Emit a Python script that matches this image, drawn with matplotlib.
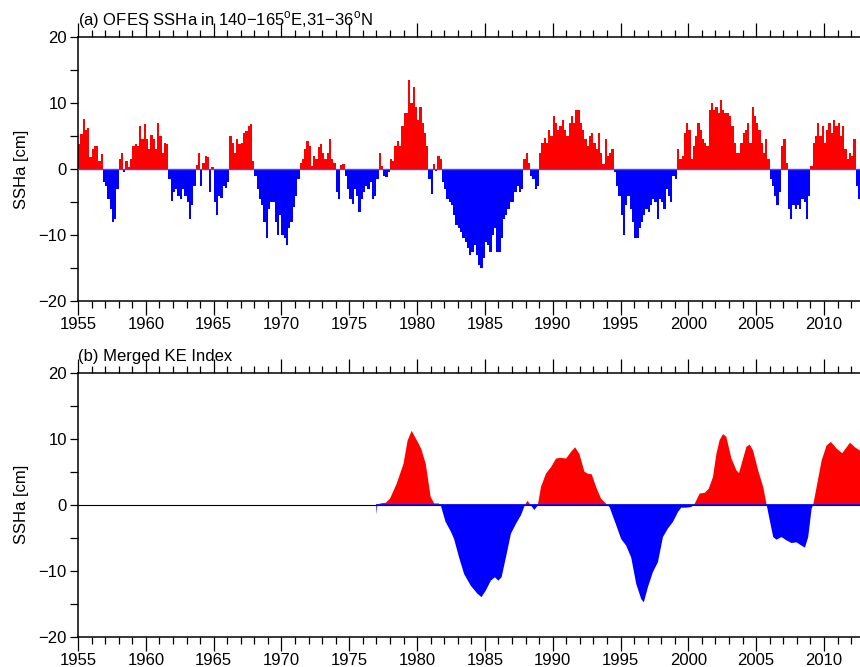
import numpy as np
import matplotlib
matplotlib.use("Agg")
import matplotlib.pyplot as plt
from matplotlib.ticker import MultipleLocator

plt.rcParams["font.family"] = ["Liberation Sans", "DejaVu Sans"]
plt.rcParams["mathtext.fontset"] = "custom"
plt.rcParams["mathtext.rm"] = "Liberation Sans"

# (a) OFES SSHa, bimonthly values from Jan 1955 (6 per year)
ofes_start = 1955.0
ofes_step = 1.0 / 6.0
ofes_ssha = [
    3.8, 5.3, 7.6, 6.0, 6.3, 1.8,        # 1955
    3.0, 3.5, 3.5, 1.3, 2.3, -2.0,       # 1956
    -2.5, -4.5, -6.0, -8.0, -7.5, -3.0,  # 1957
    1.5, 2.5, -0.5, 1.2, 0.3, 1.5,       # 1958
    3.5, 3.8, 3.5, 6.5, 4.5, 6.8,        # 1959
    4.5, 3.0, 5.2, 4.5, 3.0, 7.0,        # 1960
    5.0, 2.5, 4.0, 3.8, -1.5, -4.8,      # 1961
    -3.5, -3.0, -4.0, -4.5, -3.0, -4.0,  # 1962
    -5.0, -7.5, -5.5, -2.5, 0.6, 2.5,    # 1963
    -2.5, 1.0, 2.0, 1.8, -3.5, 0.3,      # 1964
    -5.0, -7.0, -4.0, -4.3, -2.5, -2.8,  # 1965
    -2.0, 5.0, 4.0, 2.5, 4.5, 3.8,       # 1966
    4.0, 5.5, 5.8, 6.5, 6.8, 1.2,        # 1967
    -1.0, -3.0, -4.5, -5.5, -8.0, -10.5, # 1968
    -6.0, -5.0, -5.0, -8.0, -10.0, -7.0, # 1969
    -10.0, -10.5, -11.5, -9.0, -8.0, -5.8,  # 1970
    -4.0, -1.5, 1.0, 1.5, 3.0, 4.2,      # 1971
    3.5, 0.5, 2.0, 1.5, 3.3, 3.8,        # 1972
    2.5, 1.5, 2.5, 4.5, 1.5, 1.0,        # 1973
    -3.5, -4.5, 0.6, 0.8, -1.0, -3.0,    # 1974
    -4.5, -5.3, -3.0, -4.0, -6.5, -4.5,  # 1975
    -3.5, -2.5, -3.0, -2.0, -4.5, -4.0,  # 1976
    -1.5, 2.5, 0.5, -1.0, -1.2, -0.5,    # 1977
    1.5, 1.2, 3.5, 4.2, 3.5, 6.5,        # 1978
    8.5, 8.5, 13.5, 10.0, 12.5, 9.5,     # 1979
    7.5, 9.5, 7.0, 5.5, 3.5, -1.5,       # 1980
    -3.8, 0.8, -0.3, 2.0, 1.5, -2.0,     # 1981
    -3.0, -4.5, -5.0, -5.5, -7.0, -8.5,  # 1982
    -9.0, -9.5, -10.5, -11.0, -12.0, -13.0,   # 1983
    -12.5, -11.5, -13.0, -14.5, -15.0, -13.5, # 1984
    -11.0, -11.5, -12.5, -10.0, -9.0, -12.5,  # 1985
    -12.5, -10.5, -7.5, -7.0, -6.0, -5.0,     # 1986
    -5.0, -3.5, -2.5, -3.5, -3.0, 1.5,   # 1987
    2.5, 1.0, -1.0, -1.5, -3.0, -2.5,    # 1988
    2.5, 4.0, 4.8, 4.0, 6.0, 5.0,        # 1989
    8.0, 7.0, 6.0, 6.5, 7.5, 6.0,        # 1990
    5.0, 7.0, 8.0, 7.0, 9.0, 9.0,        # 1991
    7.0, 6.0, 4.5, 3.5, 5.0, 5.5,        # 1992
    4.0, 3.0, 5.5, 2.5, 0.8, 4.5,        # 1993
    2.0, 2.5, 3.0, -0.5, -2.5, -4.0,     # 1994
    -7.0, -10.0, -5.5, -4.0, -6.0, -8.0, # 1995
    -10.5, -10.5, -9.0, -8.0, -7.0, -6.0,  # 1996
    -6.5, -5.5, -4.5, -5.0, -7.5, -4.5,  # 1997
    -5.0, -6.0, -3.0, -4.0, -5.0, -1.0,  # 1998
    -1.5, 3.0, 1.5, 2.0, 5.5, 7.0,       # 1999
    6.0, 1.5, 3.5, 5.0, 7.0, 6.0,        # 2000
    4.5, 4.0, 3.5, 9.0, 10.0, 9.0,       # 2001
    9.5, 8.5, 10.5, 9.0, 8.5, 8.5,       # 2002
    8.0, 6.5, 4.0, 2.5, 2.5, 4.0,        # 2003
    5.5, 6.0, 7.0, 4.0, 9.5, 8.0,        # 2004
    7.0, 6.0, 4.0, 2.5, 4.5, 1.5,        # 2005
    -1.5, -2.5, -4.0, -5.5, -3.5, 3.5,   # 2006
    4.5, 1.0, -6.0, -7.5, -5.5, -6.0,    # 2007
    -5.5, -6.0, -4.5, -5.0, -7.5, -4.0,  # 2008
    0.5, 4.0, 5.0, 7.0, 5.0, 6.5,        # 2009
    4.0, 6.0, 7.0, 5.5, 7.5, 6.5,        # 2010
    7.0, 5.0, 6.5, 3.0, 1.5, 2.5,        # 2011
    2.0, 4.5, -2.5, -4.5, -5.0,          # 2012
]

# (b) Merged KE index
ke_year = [
    1977.0, 1977.08, 1977.3, 1977.7, 1978.0, 1978.5, 1979.0, 1979.3, 1979.6, 1980.0,
    1980.3, 1980.64, 1981.0, 1981.26, 1981.6, 1981.75, 1982.1, 1982.5, 1982.73, 1983.1,
    1983.47, 1983.97, 1984.46, 1984.75, 1985.07, 1985.44, 1985.74, 1985.99, 1986.23, 1986.55,
    1986.92, 1987.29, 1987.66, 1987.96, 1988.15, 1988.35, 1988.65, 1988.9, 1989.14, 1989.5,
    1989.88, 1990.25, 1990.6, 1990.99, 1991.35, 1991.65, 1991.97, 1992.34, 1992.59, 1992.88,
    1993.2, 1993.57, 1993.94, 1994.19, 1994.56, 1995.05, 1995.42, 1995.79, 1996.16, 1996.53,
    1996.72, 1997.02, 1997.39, 1997.76, 1998.13, 1998.5, 1998.87, 1999.24, 1999.48, 1999.85,
    2000.22, 2000.47, 2000.84, 2001.21, 2001.5, 2001.82, 2002.07, 2002.31, 2002.56, 2002.8,
    2003.18, 2003.55, 2003.74, 2004.04, 2004.29, 2004.53, 2004.78, 2005.15, 2005.52, 2005.76,
    2006.01, 2006.26, 2006.5, 2006.87, 2007.24, 2007.61, 2007.98, 2008.35, 2008.6, 2008.84,
    2009.09, 2009.21, 2009.46, 2009.83, 2010.2, 2010.52, 2010.94, 2011.35, 2011.92, 2012.29,
    2012.8,
]
ke_value = [
    -1.5, 0.0, 0.2, 0.3, 0.9, 3.2, 6.2, 9.7, 11.2, 9.7,
    8.5, 6.2, 1.2, 0.2, 0.2, -0.1, -2.6, -4.1, -5.2, -8.0,
    -10.5, -12.3, -13.5, -14.0, -13.0, -11.5, -11.0, -11.5, -11.0, -8.0,
    -4.4, -2.9, -1.6, 0.0, 0.6, 0.0, -0.8, -0.1, 2.7, 4.7,
    5.7, 7.0, 7.1, 7.0, 8.0, 8.7, 7.7, 5.0, 4.7, 4.6,
    2.7, 0.9, 0.15, -0.35, -2.4, -5.2, -6.2, -8.0, -12.0, -14.3,
    -14.8, -12.5, -10.2, -8.7, -4.9, -3.6, -2.6, -1.1, -0.45, -0.45,
    -0.35, 0.15, 1.7, 1.8, 2.4, 4.2, 7.7, 9.8, 10.7, 10.3,
    7.0, 5.2, 4.8, 7.0, 8.8, 9.1, 8.2, 5.2, 2.7, 0.15,
    -2.4, -4.9, -5.3, -4.9, -5.4, -5.8, -5.7, -6.2, -6.5, -4.9,
    -0.6, 0.0, 2.7, 6.7, 9.0, 9.5, 8.5, 7.8, 9.4, 8.7,
    8.0,
]

X_MIN, X_MAX = 1955.0, 2012.83


def style_axis(ax, title):
    ax.set_xlim(X_MIN, X_MAX)
    ax.set_ylim(-20, 20)
    ax.xaxis.set_major_locator(MultipleLocator(5))
    ax.xaxis.set_minor_locator(MultipleLocator(1))
    ax.yaxis.set_major_locator(MultipleLocator(10))
    ax.yaxis.set_minor_locator(MultipleLocator(5))
    ax.tick_params(axis="x", which="both", direction="out", top=True, bottom=True,
                   labelsize=12, pad=1.5, width=0.9)
    ax.tick_params(axis="x", which="major", length=10)
    ax.tick_params(axis="x", which="minor", length=5)
    ax.tick_params(axis="y", which="both", direction="out", left=True, right=False,
                   labelsize=12, pad=2, width=0.9, length=6)
    ax.spines["right"].set_visible(False)
    for side in ("left", "top", "bottom"):
        ax.spines[side].set_linewidth(1.1)
    ax.set_ylabel("SSHa [cm]", fontsize=12, labelpad=7)
    ax.text(0.0, 1.046, title, transform=ax.transAxes, fontsize=12,
            ha="left", va="baseline")


def main():
    fig = plt.figure(figsize=(8.6, 6.67), dpi=100)
    ax1 = fig.add_axes([0.0907, 0.5487, 0.912, 0.3954])
    ax2 = fig.add_axes([0.0907, 0.0454, 0.912, 0.3958])

    vals = np.array(ofes_ssha)
    t = ofes_start + ofes_step * np.arange(len(vals))
    colors = np.where(vals >= 0, "#ff0000", "#0000ff")
    ax1.bar(t, vals, width=ofes_step, align="edge", color=colors,
            linewidth=0, antialiased=False)
    ax1.axhline(0, color="#5a48d8", lw=1.0, zorder=3)
    style_axis(ax1, r"(a) OFES SSHa in 140$-$165$^{\mathrm{o}}$E,31$-$36$^{\mathrm{o}}$N")

    ky = np.array(ke_year)
    kv = np.array(ke_value)
    ax2.axhline(0, color="black", lw=0.8)
    ax2.fill_between(ky, kv, 0, where=kv >= 0, interpolate=True, color="#ff0000", lw=0)
    ax2.fill_between(ky, kv, 0, where=kv <= 0, interpolate=True, color="#0000ff", lw=0)
    ax2.hlines(0, ky[0], ky[-1], color="#0000ff", lw=1.2, zorder=3)
    style_axis(ax2, "(b) Merged KE Index")

    fig.savefig("out.png", dpi=100)
    plt.close(fig)


if __name__ == "__main__":
    main()
